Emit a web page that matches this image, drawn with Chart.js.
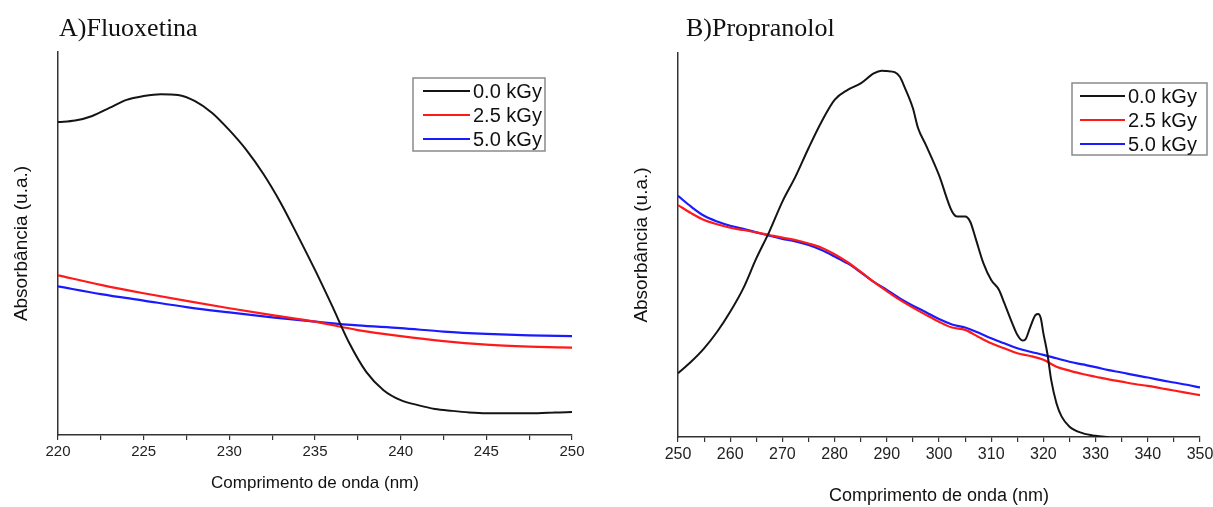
<!DOCTYPE html>
<html>
<head>
<meta charset="utf-8">
<script src="https://cdn.jsdelivr.net/npm/chart.js@4.4.1/dist/chart.umd.min.js"></script>
<style>
  html, body { margin: 0; padding: 0; background: #fff; }
  body { width: 1213px; height: 507px; position: relative; overflow: hidden; }
  .panel { position: absolute; top: 0; height: 507px; }
  #panel-a { left: 0; width: 600px; }
  #panel-b { left: 610px; width: 620px; }
  .title {
    position: absolute; top: 13px;
    font-family: "Liberation Serif", "Times New Roman", serif;
    font-size: 26px; line-height: 30px; color: #111;
  }
  #title-a { left: 59px; }
  #title-b { left: 686px; }
</style>
</head>
<body>
<div class="panel" id="panel-a"><canvas id="chart-a" width="600" height="507"></canvas></div>
<div class="panel" id="panel-b"><canvas id="chart-b" width="620" height="507"></canvas></div>
<div class="title" id="title-a">A)Fluoxetina</div>
<div class="title" id="title-b">B)Propranolol</div>
<script>
// ---- A) Fluoxetina ----
const seriesLabels = ['0.0 kGy', '2.5 kGy', '5.0 kGy'];

const fluoxBlackNm = [220, 221, 222, 223, 224, 225, 226, 227, 228, 229, 230, 231, 232, 233, 234, 235,
  236, 237, 238, 239, 240, 241, 242, 243, 244, 245, 246, 247, 248, 249, 250];
const fluox00 = [0.817, 0.821, 0.833, 0.854, 0.875, 0.885, 0.890, 0.888, 0.872, 0.841, 0.796, 0.744,
  0.681, 0.606, 0.520, 0.431, 0.337, 0.240, 0.164, 0.117, 0.091, 0.078, 0.068, 0.063, 0.059, 0.057,
  0.057, 0.057, 0.057, 0.059, 0.060];

const fluoxNm = [220, 222.5, 225, 227.5, 230, 232.5, 235, 237.5, 240, 242.5, 245, 247.5, 250];
const fluox25 = [0.417, 0.392, 0.370, 0.350, 0.331, 0.313, 0.296, 0.274, 0.258, 0.245, 0.236, 0.231, 0.228];
const fluox50 = [0.388, 0.368, 0.351, 0.334, 0.320, 0.307, 0.296, 0.286, 0.279, 0.270, 0.264, 0.260, 0.258];

// ---- B) Propranolol ----
const propBlackNm = [250, 252.5, 255, 257.5, 260, 262.5, 265, 267.5, 270, 272.5, 275, 277.5, 280, 282.5,
  285, 287.5, 289, 290, 291.5, 292.5, 293.5, 295, 296, 297.5, 300, 302.5, 303.5, 305, 306, 307, 308.5,
  310, 311.5, 312.5, 314, 315, 316, 316.5, 317.5, 318.5, 319, 319.5, 320, 320.75, 321.5, 322.5, 323.5,
  325, 327.5, 330, 332.5];
const prop00 = [0.166, 0.196, 0.231, 0.274, 0.326, 0.387, 0.465, 0.535, 0.613, 0.678, 0.752, 0.821,
  0.878, 0.904, 0.921, 0.947, 0.954, 0.953, 0.950, 0.938, 0.908, 0.856, 0.804, 0.760, 0.682, 0.587,
  0.574, 0.574, 0.560, 0.518, 0.453, 0.409, 0.383, 0.349, 0.297, 0.266, 0.251, 0.253, 0.287, 0.318,
  0.320, 0.309, 0.270, 0.218, 0.148, 0.088, 0.053, 0.027, 0.010, 0.003, 0.000];

const propNm = [250, 252.5, 255, 257.5, 260, 262.5, 265, 267.5, 270, 272.5, 275, 277.5, 280, 282.5,
  285, 287.5, 290, 292.5, 295, 297.5, 300, 302.5, 305, 307.5, 310, 312.5, 315, 317.5, 320, 322.5,
  325, 327.5, 330, 332.5, 335, 337.5, 340, 342.5, 345, 347.5, 350];
const prop25 = [0.604, 0.583, 0.565, 0.554, 0.545, 0.539, 0.533, 0.526, 0.519, 0.513, 0.504, 0.493,
  0.476, 0.455, 0.430, 0.404, 0.380, 0.357, 0.337, 0.318, 0.300, 0.285, 0.279, 0.261, 0.244, 0.231,
  0.218, 0.211, 0.201, 0.183, 0.173, 0.164, 0.157, 0.150, 0.144, 0.138, 0.133, 0.127, 0.121, 0.115, 0.109];
const prop50 = [0.628, 0.600, 0.576, 0.561, 0.550, 0.542, 0.533, 0.524, 0.516, 0.509, 0.500, 0.487,
  0.470, 0.452, 0.429, 0.404, 0.383, 0.361, 0.342, 0.325, 0.307, 0.293, 0.285, 0.272, 0.257, 0.244,
  0.231, 0.222, 0.214, 0.205, 0.196, 0.189, 0.182, 0.174, 0.168, 0.161, 0.155, 0.148, 0.142, 0.136, 0.129];

const colors = ['#141414', '#ff1a1a', '#1a1aff'];

function pts(xs, ys) {
  return xs.map((x, i) => ({ x: x, y: ys[i] }));
}

function makeDataset(label, xs, ys, color, width) {
  return {
    label: label,
    data: pts(xs, ys),
    borderColor: color,
    backgroundColor: color,
    borderWidth: width,
    pointRadius: 0,
    cubicInterpolationMode: 'monotone',
    fill: false,
  };
}

// legend box drawn inside the plot, like the Origin export
const boxLegend = {
  id: 'boxLegend',
  afterDraw(chart, args, opts) {
    const { ctx } = chart;
    ctx.save();
    ctx.strokeStyle = '#8a8a8a';
    ctx.lineWidth = 1.5;
    ctx.strokeRect(opts.x, opts.y, opts.w, opts.h);
    ctx.font = opts.fontSize + 'px "Liberation Sans", Arial, sans-serif';
    ctx.textBaseline = 'middle';
    ctx.fillStyle = '#111';
    chart.data.datasets.forEach((ds, i) => {
      const yy = opts.y + opts.firstRow + i * opts.rowGap;
      ctx.strokeStyle = ds.borderColor;
      ctx.lineWidth = 2;
      ctx.beginPath();
      ctx.moveTo(opts.x + opts.lineStart, yy);
      ctx.lineTo(opts.x + opts.lineStart + opts.lineLen, yy);
      ctx.stroke();
      ctx.fillText(ds.label, opts.x + opts.lineStart + opts.lineLen + 3, yy + 1);
    });
    ctx.restore();
  }
};

function makeChart(canvasId, cfg) {
  return new Chart(document.getElementById(canvasId), {
    type: 'line',
    data: { datasets: cfg.datasets },
    options: {
      responsive: false,
      animation: false,
      layout: { padding: { top: cfg.top, right: cfg.right, left: 0, bottom: 0 } },
      plugins: {
        legend: { display: false },
        tooltip: { enabled: false },
        boxLegend: cfg.legend,
      },
      scales: {
        x: {
          type: 'linear',
          min: cfg.xMin,
          max: cfg.xMax,
          afterFit(scale) { scale.height = cfg.xAxisHeight; },
          afterBuildTicks(scale) {
            const t = [];
            for (let v = cfg.xMin; v <= cfg.xMax + 1e-9; v += cfg.minorStep) t.push({ value: v });
            scale.ticks = t;
          },
          border: { display: true, color: '#333', width: 1.5 },
          grid: { drawOnChartArea: false, drawTicks: true, tickLength: 5, color: '#333', lineWidth: 1.2 },
          ticks: {
            autoSkip: false,
            maxRotation: 0,
            padding: 3,
            color: '#222',
            font: { family: '"Liberation Sans", Arial, sans-serif', size: cfg.tickSize },
            callback: (v) => (Math.abs(v % cfg.majorStep) < 1e-9 ? String(v) : ''),
          },
          title: {
            display: true,
            text: 'Comprimento de onda (nm)',
            color: '#111',
            font: { family: '"Liberation Sans", Arial, sans-serif', size: cfg.xTitleSize },
            padding: { top: 0, bottom: cfg.xTitlePad },
          },
        },
        y: {
          min: 0,
          max: 1,
          afterFit(scale) { scale.width = cfg.yAxisWidth; },
          border: { display: true, color: '#333', width: 1.5 },
          grid: { display: false },
          ticks: { display: false },
          title: {
            display: true,
            text: 'Absorbância (u.a.)',
            color: '#111',
            font: { family: '"Liberation Sans", Arial, sans-serif', size: 19 },
            padding: { top: cfg.yTitlePad, bottom: 0 },
          },
        },
      },
    },
    plugins: [boxLegend],
  });
}

makeChart('chart-a', {
  datasets: [
    makeDataset(seriesLabels[0], fluoxBlackNm, fluox00, colors[0], 2),
    makeDataset(seriesLabels[1], fluoxNm, fluox25, colors[1], 2.2),
    makeDataset(seriesLabels[2], fluoxNm, fluox50, colors[2], 2.2),
  ],
  xMin: 220, xMax: 250, minorStep: 2.5, majorStep: 5,
  top: 52, right: 28, xAxisHeight: 72, yAxisWidth: 58,
  tickSize: 15, xTitleSize: 17, xTitlePad: 13, yTitlePad: 10,
  legend: { x: 413, y: 78, w: 132, h: 73, firstRow: 13, rowGap: 24, lineStart: 10, lineLen: 47, fontSize: 20 },
});

makeChart('chart-b', {
  datasets: [
    makeDataset(seriesLabels[0], propBlackNm, prop00, colors[0], 2),
    makeDataset(seriesLabels[1], propNm, prop25, colors[1], 2.2),
    makeDataset(seriesLabels[2], propNm, prop50, colors[2], 2.2),
  ],
  xMin: 250, xMax: 350, minorStep: 5, majorStep: 10,
  top: 53, right: 30, xAxisHeight: 70, yAxisWidth: 68,
  tickSize: 16, xTitleSize: 18, xTitlePad: 0, yTitlePad: 20,
  legend: { x: 462, y: 83, w: 135, h: 72, firstRow: 13, rowGap: 24, lineStart: 8, lineLen: 45, fontSize: 20 },
});
</script>
</body>
</html>
